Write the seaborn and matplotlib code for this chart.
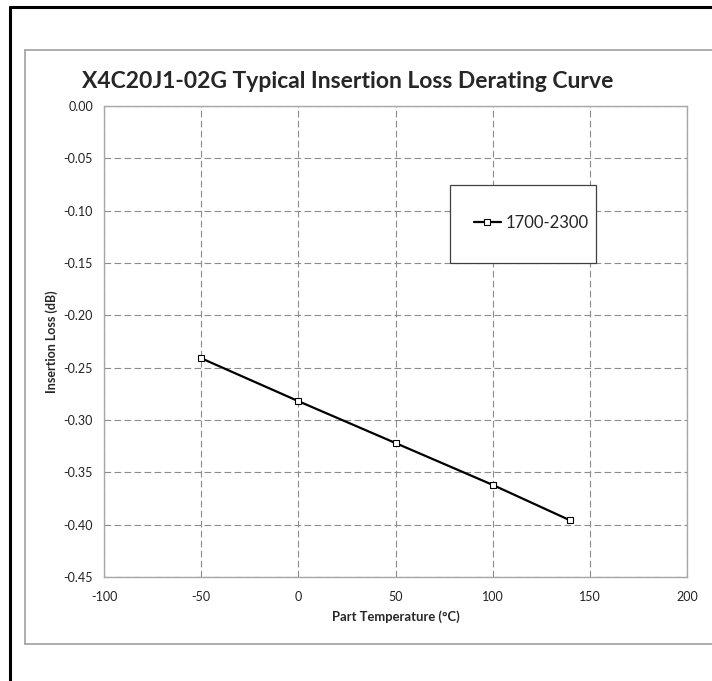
import matplotlib
matplotlib.use("Agg")
import matplotlib.pyplot as plt
import matplotlib.ticker as ticker
from matplotlib.lines import Line2D
from matplotlib.patches import Rectangle
import pandas as pd
import seaborn as sns

# DATA
temperature = [-50, 0, 50, 100, 140]
insertion_loss = [-0.241, -0.282, -0.322, -0.362, -0.396]
series_name = "1700-2300"

df = pd.DataFrame({"temp": temperature, "loss": insertion_loss, "band": series_name})

# STYLE
sns.set_style("white")
plt.rcParams["font.family"] = ["Lato", "DejaVu Sans"]
plt.rcParams["axes.unicode_minus"] = False

W, H = 712, 681
fig = plt.figure(figsize=(W / 100, H / 100), dpi=100)
ax = fig.add_axes([104 / W, 1 - 577 / H, (687 - 104) / W, (577 - 106) / H])

sns.lineplot(data=df, x="temp", y="loss", hue="band", palette=["black"],
             marker="s", markersize=4.6, markerfacecolor="white",
             markeredgecolor="black", markeredgewidth=0.8,
             linewidth=1.6, ax=ax, legend=True)

ax.set_xlim(-100, 200)
ax.set_ylim(-0.45, 0.0)
ax.xaxis.set_major_locator(ticker.MultipleLocator(50))
ax.yaxis.set_major_locator(ticker.MultipleLocator(0.05))
ax.yaxis.set_major_formatter(ticker.FuncFormatter(lambda v, _: "{:.2f}".format(v)))
ax.grid(True, color="#8c8c8c", linestyle=(0, (6, 3)), linewidth=0.8)
ax.set_axisbelow(True)
for s in ax.spines.values():
    s.set_color("#a6a6a6")
    s.set_linewidth(1.0)
ax.tick_params(axis="both", length=0, labelsize=9, colors="#222222")
ax.tick_params(axis="y", pad=8)
ax.tick_params(axis="x", pad=10)

ax.set_xlabel("Part Temperature (°C)", fontsize=9.4, fontweight="bold", labelpad=5)
ax.set_ylabel("Insertion Loss (dB)", fontsize=9, fontweight="bold", labelpad=4)

fig.text(348 / W, 1 - 81 / H, "X4C20J1-02G Typical Insertion Loss Derating Curve",
         fontsize=16.5, fontweight="bold", ha="center", va="center")

# legend inside a separate box like the Excel one
ax.get_legend().remove()
handles, labels = ax.get_legend_handles_labels()
fig.legend(handles, labels, loc="center left",
           bbox_to_anchor=(474 / W, 1 - 223 / H), frameon=False,
           borderpad=0, borderaxespad=0, handlelength=1.6,
           handletextpad=0.28, fontsize=12)
fig.add_artist(Rectangle((450 / W, 1 - 263 / H), 146 / W, 78 / H,
                         transform=fig.transFigure, facecolor="white",
                         edgecolor="#404040", linewidth=0.9, zorder=1))

# chart frames
fig.add_artist(Line2D([25 / W, 25 / W], [1 - 50 / H, 1 - 644 / H], color="#a0a0a0", lw=1.2))
fig.add_artist(Line2D([25 / W, 1.0], [1 - 50 / H, 1 - 50 / H], color="#a0a0a0", lw=1.2))
fig.add_artist(Line2D([25 / W, 1.0], [1 - 644 / H, 1 - 644 / H], color="#a0a0a0", lw=1.2))
fig.add_artist(Line2D([10 / W, 10 / W], [1 - 7 / H, 0.0], color="black", lw=2.2))
fig.add_artist(Line2D([10 / W, 1.0], [1 - 7 / H, 1 - 7 / H], color="black", lw=2.2))

fig.savefig("out.png", dpi=100)
